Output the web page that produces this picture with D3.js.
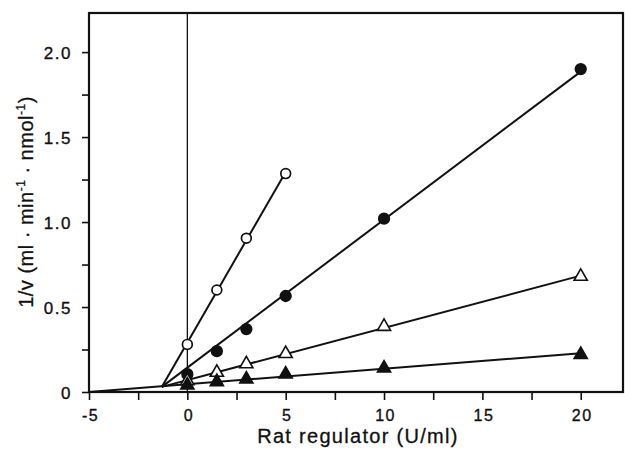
<!DOCTYPE html>
<html>
<head>
<meta charset="utf-8">
<script src="https://cdn.jsdelivr.net/npm/d3@7"></script>
<style>
  body { margin: 0; background: #fff; }
  text { font-family: "Liberation Sans", Arial, sans-serif; fill: #111; }
</style>
</head>
<body>
<div id="chart"></div>
<script>
// concentrations of rat regulator (U/ml)
var xOpenCircle = [0, 1.5, 3, 5];
var yOpenCircle = [0.28, 0.60, 0.905, 1.285];
var xFilledCircle = [0, 1.5, 3, 5, 10, 20];
var yFilledCircle = [0.105, 0.24, 0.37, 0.565, 1.02, 1.90];
var xOpenTriangle = [0, 1.5, 3, 5, 10, 20];
var yOpenTriangle = [0.065, 0.115, 0.165, 0.225, 0.385, 0.68];
var xFilledTriangle = [0, 1.5, 3, 5, 10, 20];
var yFilledTriangle = [0.04, 0.06, 0.075, 0.105, 0.14, 0.22];

// common intersection of the fitted lines
var pivot = [-1.3, 0.03];
var xTicks = [-5, -2.5, 0, 2.5, 5, 7.5, 10, 12.5, 15, 17.5, 20];
var xLabels = [-5, 0, 5, 10, 15, 20];
var yTicks = [0, 0.25, 0.5, 0.75, 1, 1.25, 1.5, 1.75, 2];
var yLabels = [0, 0.5, 1.0, 1.5, 2.0];

var width = 625, height = 451;
var margin = { top: 13, right: 1, bottom: 59, left: 89 };

var series = [
    { xs: xOpenCircle, ys: yOpenCircle, shape: "circle", filled: false, from: pivot[0] },
    { xs: xFilledCircle, ys: yFilledCircle, shape: "circle", filled: true, from: pivot[0] },
    { xs: xOpenTriangle, ys: yOpenTriangle, shape: "triangle", filled: false, from: pivot[0] },
    { xs: xFilledTriangle, ys: yFilledTriangle, shape: "triangle", filled: true, from: -5 }
];

var svg = d3.select("#chart").append("svg")
    .attr("width", width)
    .attr("height", height);

var x = d3.scaleLinear().domain([-5, 22.2]).range([margin.left, width - margin.right]);
var y = d3.scaleLinear().domain([0, 2.23]).range([height - margin.bottom, margin.top]);

// least squares line forced through the pivot point
function fit(s) {
    var num = 0, den = 0;
    s.xs.forEach(function (xv, i) {
        num += (xv - pivot[0]) * (s.ys[i] - pivot[1]);
        den += (xv - pivot[0]) * (xv - pivot[0]);
    });
    var slope = num / den;
    return function (xv) { return pivot[1] + slope * (xv - pivot[0]); };
}

// axes
var xAxis = d3.axisBottom(x).tickValues(xTicks).tickSize(8)
    .tickFormat(function (d) { return xLabels.indexOf(d) >= 0 ? d : ""; });
var gx = svg.append("g")
    .attr("transform", "translate(0," + y(0) + ")")
    .call(xAxis);
gx.select(".domain").remove();
gx.selectAll("line").attr("stroke", "#111").attr("stroke-width", 1.6);
gx.selectAll("text")
    .style("font-size", "16px").style("letter-spacing", "1.5px")
    .style("stroke", "#111").style("stroke-width", 0.35)
    .attr("y", 29).attr("dy", 0).attr("dx", "1px");

var yAxis = d3.axisLeft(y).tickValues(yTicks).tickSize(7).tickPadding(10)
    .tickFormat(function (d) {
        if (yLabels.indexOf(d) < 0) return "";
        return d === 0 ? "0" : d3.format(".1f")(d);
    });
var gy = svg.append("g")
    .attr("transform", "translate(" + x(-5) + ",0)")
    .call(yAxis);
gy.select(".domain").remove();
gy.selectAll("line").attr("stroke", "#111").attr("stroke-width", 1.6);
gy.selectAll("text")
    .style("font-size", "17px").style("letter-spacing", "1.5px")
    .style("stroke", "#111").style("stroke-width", 0.35)
    .attr("dy", "0.36em");

// frame
svg.append("rect")
    .attr("x", x(-5)).attr("y", y(2.23))
    .attr("width", x(22.2) - x(-5) - 1)
    .attr("height", y(0) - y(2.23))
    .attr("fill", "none").attr("stroke", "#111").attr("stroke-width", 2.2);

// vertical line at zero
svg.append("line")
    .attr("x1", x(0)).attr("x2", x(0))
    .attr("y1", y(2.23)).attr("y2", y(0))
    .attr("stroke", "#111").attr("stroke-width", 1.3);

// fitted lines
series.forEach(function (s) {
    var f = fit(s);
    var xEnd = d3.max(s.xs);
    svg.append("line")
        .attr("x1", x(s.from)).attr("y1", y(Math.max(0, f(s.from))))
        .attr("x2", x(xEnd)).attr("y2", y(f(xEnd)))
        .attr("stroke", "#111").attr("stroke-width", 2);
});

// markers
var tri = d3.symbol().type(d3.symbolTriangle).size(75);
series.forEach(function (s) {
    var pts = s.xs.map(function (xv, i) { return [xv, s.ys[i]]; });
    var g = svg.append("g");
    if (s.shape === "circle") {
        g.selectAll("circle").data(pts).enter().append("circle")
            .attr("cx", function (d) { return x(d[0]); })
            .attr("cy", function (d) { return y(d[1]); })
            .attr("r", s.filled ? 5.3 : 4.9)
            .attr("fill", s.filled ? "#111" : "#fff")
            .attr("stroke", "#111").attr("stroke-width", 1.7);
    } else {
        g.selectAll("path").data(pts).enter().append("path")
            .attr("d", tri)
            .attr("transform", function (d) { return "translate(" + x(d[0]) + "," + y(d[1]) + ")"; })
            .attr("fill", s.filled ? "#111" : "#fff")
            .attr("stroke", "#111").attr("stroke-width", 1.6);
    }
});

// axis titles
svg.append("text")
    .attr("x", 358)
    .attr("y", 443)
    .attr("text-anchor", "middle")
    .style("font-size", "20px").style("letter-spacing", "1.3px")
    .style("stroke", "#111").style("stroke-width", 0.3)
    .text("Rat regulator (U/ml)");

var yl = svg.append("text")
    .attr("transform", "translate(33," + 202 + ") rotate(-90)")
    .attr("text-anchor", "middle")
    .style("font-size", "20px").style("letter-spacing", "0.5px")
    .style("stroke", "#111").style("stroke-width", 0.3);
yl.append("tspan").text("1/v (ml · min");
yl.append("tspan").attr("dy", "-8").style("font-size", "12px").text("-1");
yl.append("tspan").attr("dy", "8").text(" · nmol");
yl.append("tspan").attr("dy", "-8").style("font-size", "12px").text("-1");
yl.append("tspan").attr("dy", "8").text(")");
</script>
</body>
</html>
